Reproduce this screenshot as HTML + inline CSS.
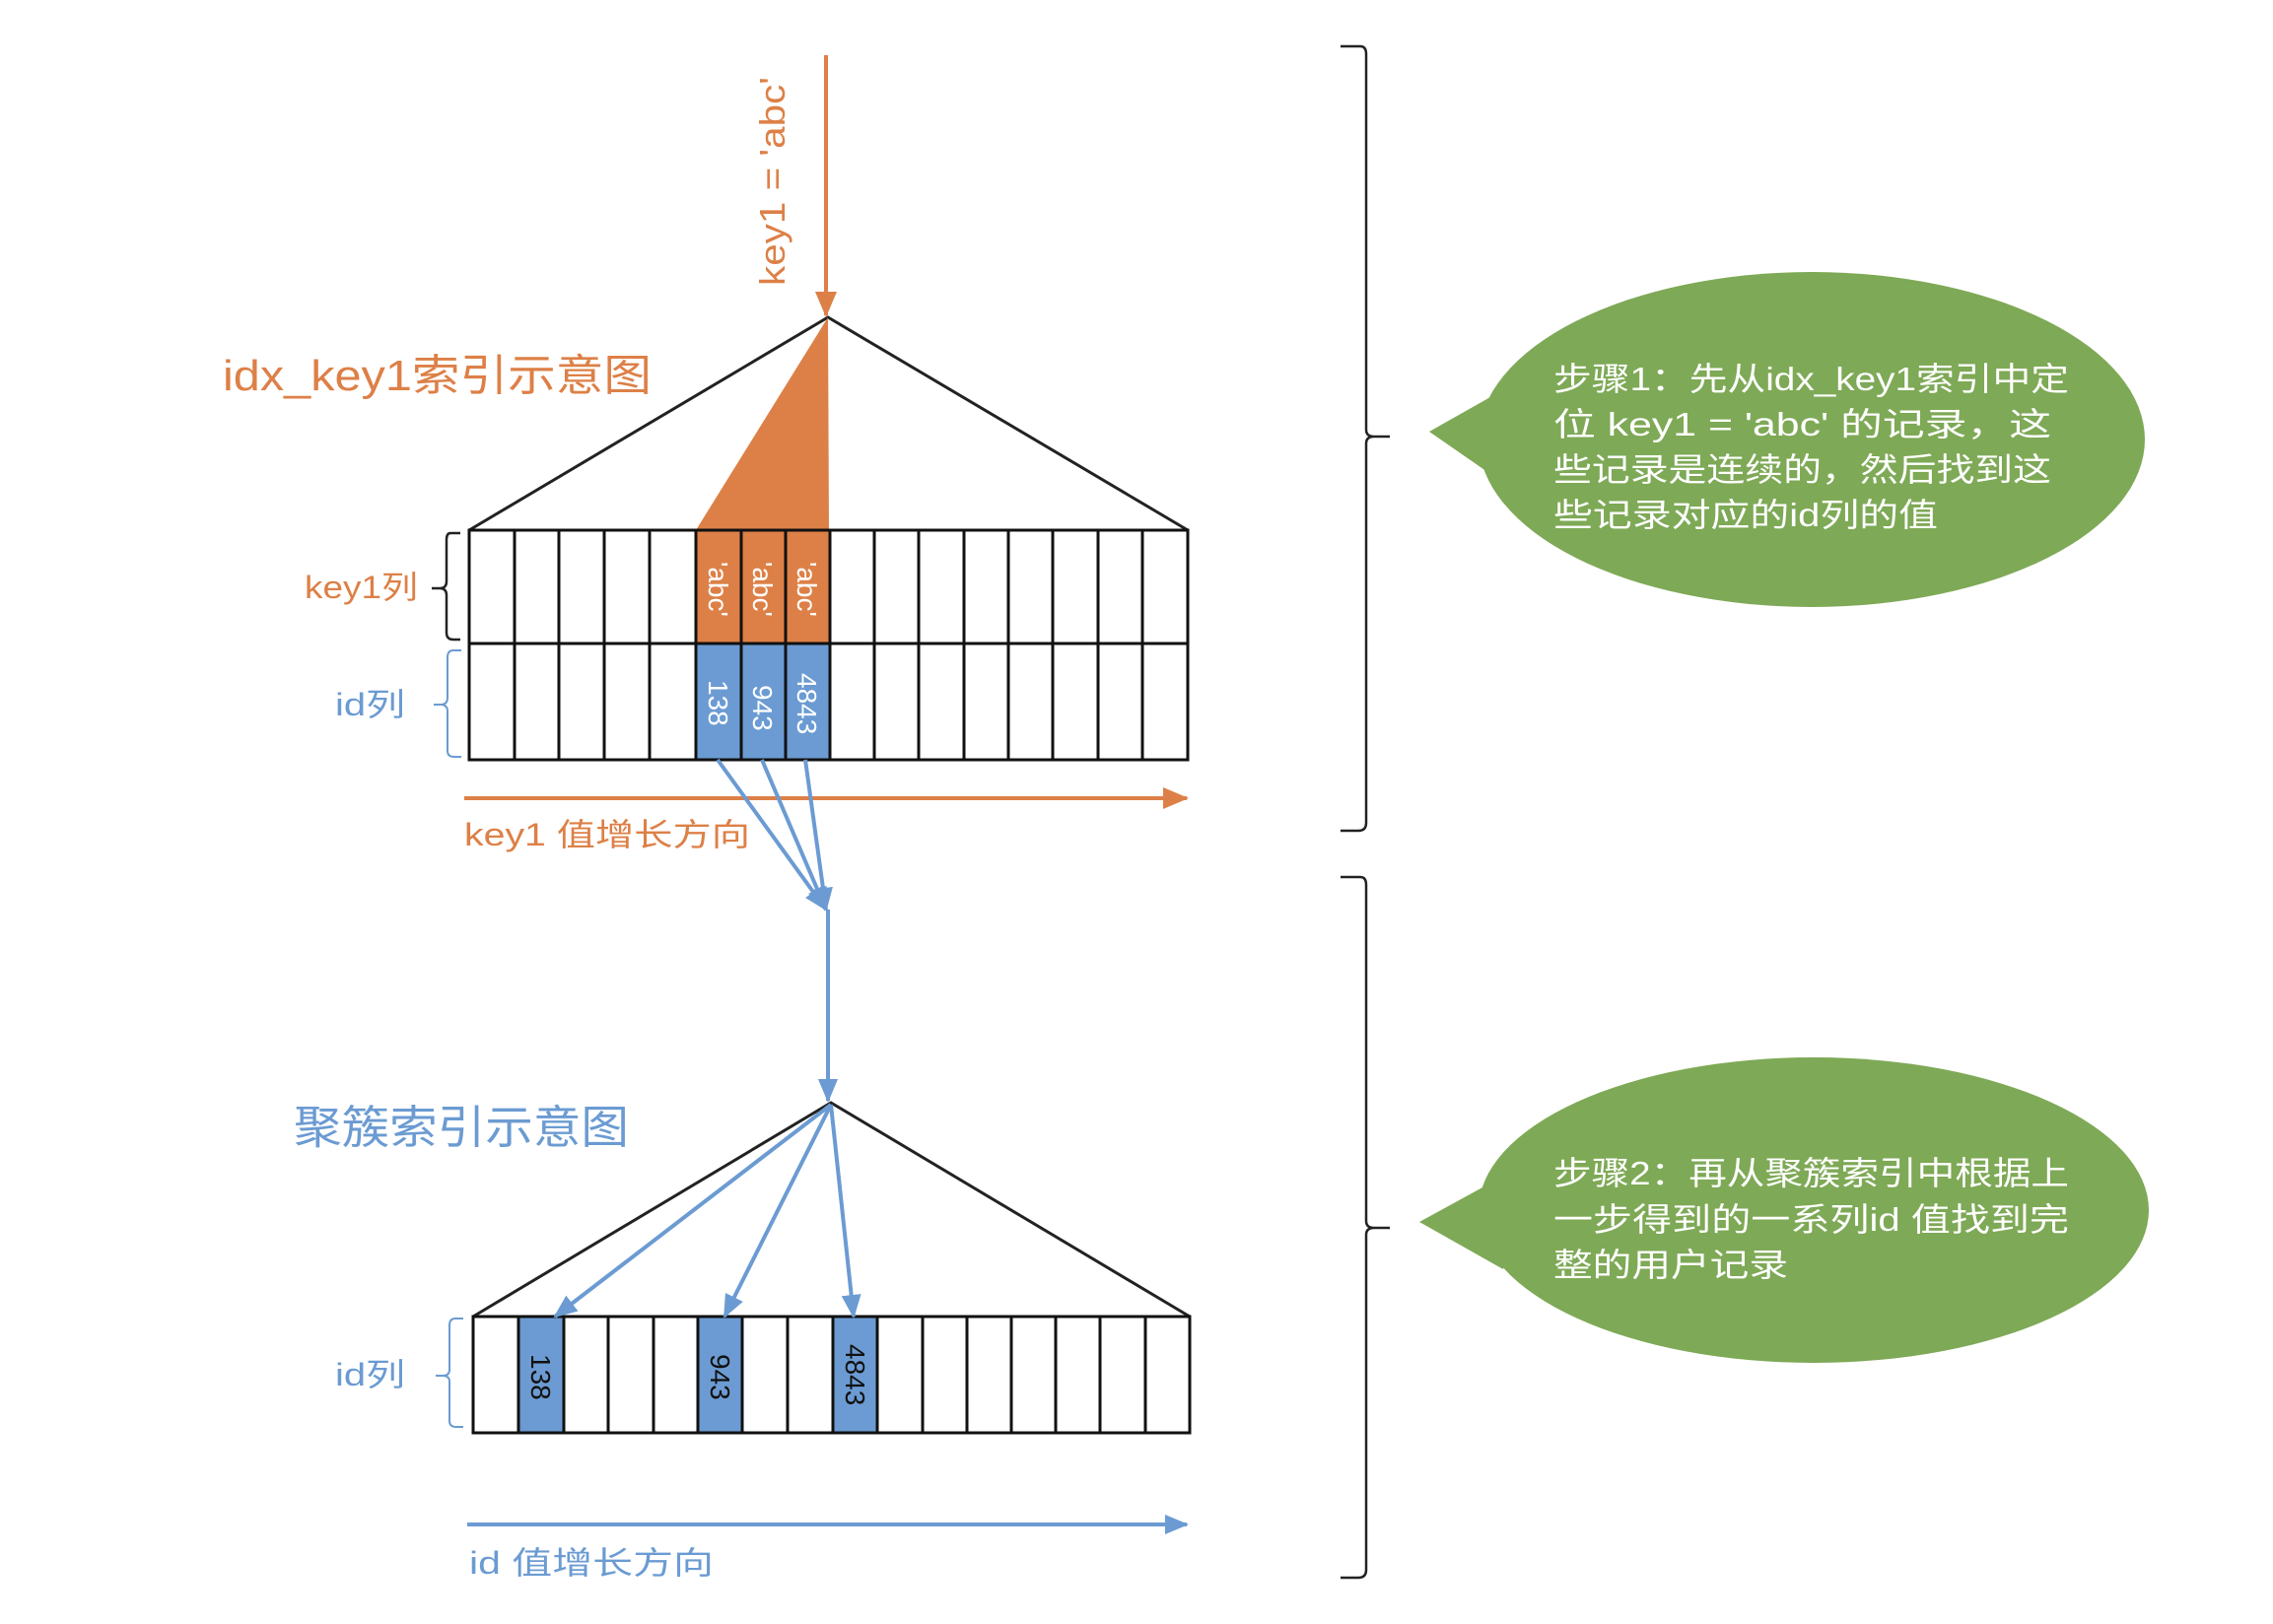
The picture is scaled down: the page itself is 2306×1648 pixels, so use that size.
<!DOCTYPE html>
<html><head><meta charset="utf-8"><style>
html,body{margin:0;padding:0;background:#fff;}
svg{display:block;}
text{font-family:"Liberation Sans","Noto Sans CJK SC",sans-serif;}
</style></head><body>
<svg width="2306" height="1648" viewBox="0 0 2306 1648" xmlns="http://www.w3.org/2000/svg">
<defs>
<marker id="ab" markerWidth="24" markerHeight="24" refX="22" refY="12" orient="auto" markerUnits="userSpaceOnUse" viewBox="0 0 24 24"><path d="M0,2 L24,12 L0,22 z" fill="#6b9bd2"/></marker>
<marker id="ao2" markerWidth="26" markerHeight="26" refX="24" refY="13" orient="auto" markerUnits="userSpaceOnUse" viewBox="0 0 26 26"><path d="M0,2 L26,13 L0,24 z" fill="#dd8047"/></marker>
</defs>

<line x1="838" y1="56" x2="838" y2="320" stroke="#dd8047" stroke-width="4" marker-end="url(#ao2)"/>
<text transform="translate(796,290) rotate(-90)" font-size="36" fill="#dd8047" textLength="212" lengthAdjust="spacingAndGlyphs">key1 = 'abc'</text>

<polyline points="476,538 840,322 1205,538" fill="none" stroke="#222" stroke-width="3"/>
<polygon points="840,322 706,538 841,538" fill="#dd8047"/>
<text x="226" y="396" font-size="44" fill="#dd8047" textLength="435" lengthAdjust="spacingAndGlyphs">idx_key1索引示意图</text>

<rect x="706" y="538" width="136" height="115" fill="#dd8047"/>
<rect x="706" y="653" width="136" height="118" fill="#6b9bd2"/>
<g stroke="#111" stroke-width="3" fill="none">
<rect x="476" y="538" width="729" height="233"/>
<line x1="476" y1="653" x2="1205" y2="653"/>
<path d="M522,538V771M567,538V771M613,538V771M659,538V771M706,538V771M752,538V771M797,538V771M842,538V771M887,538V771M932,538V771M978,538V771M1023,538V771M1068,538V771M1114,538V771M1159,538V771"/>
</g>
<g font-size="28" fill="#fff">
<text transform="translate(719,570) rotate(90)">'abc'</text>
<text transform="translate(764,570) rotate(90)">'abc'</text>
<text transform="translate(809,570) rotate(90)">'abc'</text>
<text transform="translate(719,690) rotate(90)">138</text>
<text transform="translate(764,695) rotate(90)">943</text>
<text transform="translate(809,683) rotate(90)">4843</text>
</g>
<path d="M467,541 H457 Q453,541 453,548 V590 Q453,597 446,597 H438 M446,597 Q453,597 453,604 V642 Q453,649 460,649 H467" fill="none" stroke="#222" stroke-width="2.5"/>
<text x="309" y="607" font-size="32" fill="#dd8047" textLength="115" lengthAdjust="spacingAndGlyphs">key1列</text>
<path d="M468,660 H460 Q454,660 454,667 V708 Q454,715 447,715 H440 M447,715 Q454,715 454,722 V762 Q454,768 461,768 H468" fill="none" stroke="#6b9bd2" stroke-width="2"/>
<text x="340" y="726" font-size="32" fill="#6b9bd2" textLength="71" lengthAdjust="spacingAndGlyphs">id列</text>

<line x1="471" y1="810" x2="1204" y2="810" stroke="#dd8047" stroke-width="4" marker-end="url(#ao2)"/>
<text x="471" y="858" font-size="32" fill="#dd8047" textLength="290" lengthAdjust="spacingAndGlyphs">key1 值增长方向</text>

<g stroke="#6b9bd2" stroke-width="4" fill="none">
<line x1="728" y1="771" x2="838" y2="923" marker-end="url(#ab)"/>
<line x1="773" y1="771" x2="838" y2="923" marker-end="url(#ab)"/>
<line x1="817" y1="771" x2="838" y2="923" marker-end="url(#ab)"/>
<line x1="840" y1="923" x2="840" y2="1117" marker-end="url(#ab)"/>
</g>

<polyline points="480,1336 843,1119 1207,1336" fill="none" stroke="#222" stroke-width="3"/>
<text x="298" y="1160" font-size="46" fill="#6b9bd2" textLength="340" lengthAdjust="spacingAndGlyphs">聚簇索引示意图</text>
<rect x="526" y="1336" width="46" height="118" fill="#6b9bd2"/>
<rect x="708" y="1336" width="45" height="118" fill="#6b9bd2"/>
<rect x="845" y="1336" width="45" height="118" fill="#6b9bd2"/>
<g stroke="#111" stroke-width="3" fill="none">
<rect x="480" y="1336" width="727" height="118"/>
<path d="M526,1336V1454M572,1336V1454M617,1336V1454M663,1336V1454M708,1336V1454M753,1336V1454M799,1336V1454M845,1336V1454M890,1336V1454M936,1336V1454M981,1336V1454M1026,1336V1454M1071,1336V1454M1116,1336V1454M1162,1336V1454"/>
</g>
<g font-size="28" fill="#111">
<text transform="translate(539,1374) rotate(90)">138</text>
<text transform="translate(721,1374) rotate(90)">943</text>
<text transform="translate(858,1364) rotate(90)">4843</text>
</g>
<g stroke="#6b9bd2" stroke-width="4" fill="none">
<line x1="843" y1="1121" x2="563" y2="1336" marker-end="url(#ab)"/>
<line x1="843" y1="1121" x2="735" y2="1336" marker-end="url(#ab)"/>
<line x1="843" y1="1121" x2="866" y2="1336" marker-end="url(#ab)"/>
</g>
<path d="M470,1338 H462 Q456,1338 456,1345 V1390 Q456,1396 449,1396 H442 M449,1396 Q456,1396 456,1402 V1442 Q456,1448 463,1448 H470" fill="none" stroke="#6b9bd2" stroke-width="2"/>
<text x="340" y="1406" font-size="32" fill="#6b9bd2" textLength="71" lengthAdjust="spacingAndGlyphs">id列</text>
<line x1="474" y1="1547" x2="1204" y2="1547" stroke="#6b9bd2" stroke-width="4" marker-end="url(#ab)"/>
<text x="476" y="1597" font-size="32" fill="#6b9bd2" textLength="248" lengthAdjust="spacingAndGlyphs">id 值增长方向</text>

<path d="M1360,47 H1380 Q1386,47 1386,55 V436 Q1386,443 1394,443 H1410 M1394,443 Q1386,443 1386,450 V835 Q1386,843 1378,843 H1360" fill="none" stroke="#222" stroke-width="2.5"/>
<path d="M1360,890 H1380 Q1386,890 1386,898 V1239 Q1386,1246 1394,1246 H1410 M1394,1246 Q1386,1246 1386,1253 V1593 Q1386,1601 1378,1601 H1360" fill="none" stroke="#222" stroke-width="2.5"/>

<g fill="#7ea956">
<ellipse cx="1838" cy="446" rx="338" ry="170"/>
<polygon points="1450,438 1535,390 1525,490"/>
<ellipse cx="1840" cy="1228" rx="340" ry="155"/>
<polygon points="1440,1240 1535,1188 1525,1288"/>
</g>
<g font-size="33" fill="#fff" font-family="'Liberation Mono','Noto Sans CJK SC',monospace">
<text x="1576" y="396" textLength="523" lengthAdjust="spacingAndGlyphs">步骤1：先从idx_key1索引中定</text>
<text x="1576" y="442" textLength="505" lengthAdjust="spacingAndGlyphs">位 key1 = 'abc' 的记录，这</text>
<text x="1576" y="488" textLength="505" lengthAdjust="spacingAndGlyphs">些记录是连续的，然后找到这</text>
<text x="1576" y="534" textLength="390" lengthAdjust="spacingAndGlyphs">些记录对应的id列的值</text>
<text x="1576" y="1202" textLength="523" lengthAdjust="spacingAndGlyphs">步骤2：再从聚簇索引中根据上</text>
<text x="1576" y="1249" textLength="523" lengthAdjust="spacingAndGlyphs">一步得到的一系列id 值找到完</text>
<text x="1576" y="1295" textLength="238" lengthAdjust="spacingAndGlyphs">整的用户记录</text>
</g>
</svg>
</body></html>
